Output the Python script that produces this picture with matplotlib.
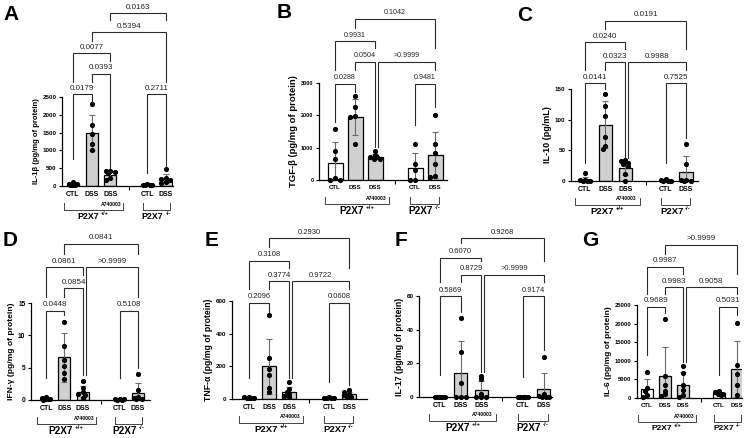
import numpy as np
import matplotlib
matplotlib.use('Agg')
import matplotlib.pyplot as plt

plt.rcParams['font.family'] = ['Liberation Sans', 'DejaVu Sans']
plt.rcParams['axes.linewidth'] = 0.9

W, H = 751, 438

groups = ['CTL', 'DSS', 'DSS', 'CTL', 'DSS']
xpos = [0, 1, 2, 4, 5]
# comparisons, same order as the p-value lists
pairs = [(0, 1), (1, 2), (2, 5), (0, 2), (1, 5), (4, 5)]

# A  IL-1b
il1b_mean = [55, 1500, 310, 30, 210]
il1b_sd = [30, 500, 110, 15, 130]
il1b_pts = [[110, 70, 55, 40, 30, 20], [2310, 1710, 1450, 1190, 1000],
            [430, 410, 390, 370, 220, 160], [50, 40, 30, 20, 15],
            [470, 230, 200, 170, 120, 80]]
il1b_p = ['0.0179', '0.0393', '0.0163', '0.0077', '0.5394', '0.2711']
il1b_ticks = [0, 500, 1000, 1500, 2000, 2500]

# B  TGF-b
tgfb_mean = [520, 1950, 720, 380, 770]
tgfb_sd = [650, 550, 80, 440, 720]
tgfb_pts = [[1570, 900, 650, 50, 0, 0], [2600, 2250, 1980, 1950, 1110],
            [900, 780, 720, 700, 660, 640], [1110, 500, 300, 0, 0],
            [2000, 1110, 820, 500, 120, 80]]
tgfb_p = ['0.0288', '0.0504', '>0.9999', '0.9931', '0.1042', '0.9481']
tgfb_ticks = [0, 1000, 2000, 3000]

# C  IL-10
il10_mean = [2, 92, 21, 1, 15]
il10_sd = [5, 38, 11, 1, 25]
il10_pts = [[13, 2, 1, 0, 0, 0], [142, 122, 106, 72, 57, 52],
            [35, 33, 30, 27, 24, 12, 0], [3, 1, 0, 0, 0],
            [60, 28, 2, 1, 0, 0]]
il10_p = ['0.0141', '0.0323', '0.9988', '0.0240', '0.0191', '0.7525']
il10_ticks = [0, 50, 100, 150]

# D  IFN-g
ifng_mean = [0.2, 6.6, 1.3, 0.1, 1.1]
ifng_sd = [0.2, 3.8, 0.8, 0.1, 1.5]
ifng_pts = [[0.5, 0.3, 0.2, 0.1, 0.0, 0.1], [12.1, 8.3, 6.2, 5.2, 4.2, 3.2],
            [3.0, 1.8, 1.2, 1.0, 0.8, 0.3], [0.2, 0.1, 0.1, 0.0, 0.0],
            [4.0, 1.6, 0.4, 0.2, 0.1, 0.3]]
ifng_p = ['0.0448', '0.0854', '>0.9999', '0.0861', '0.0841', '0.5108']
ifng_ticks = [0, 5, 10, 15]

# E  TNF-a
tnfa_mean = [8, 200, 45, 7, 30]
tnfa_sd = [4, 168, 30, 3, 15]
tnfa_pts = [[15, 10, 8, 5, 4, 6], [515, 250, 185, 150, 65, 40],
            [105, 60, 45, 30, 20, 10], [12, 8, 6, 5, 4],
            [55, 45, 30, 25, 15, 10]]
tnfa_p = ['0.2096', '0.3774', '0.9722', '0.3108', '0.2930', '0.0608']
tnfa_ticks = [0, 200, 400, 600]

# F  IL-17
il17_mean = [0, 14, 4.2, 0, 4.5]
il17_sd = [0, 19, 5.5, 0, 10]
il17_pts = [[0, 0, 0, 0, 0, 0], [47, 27, 8.3, 0, 0, 0],
            [12.5, 10.5, 2, 0, 0, 0], [0, 0, 0, 0, 0],
            [24, 1.5, 0.5, 0, 0, 0]]
il17_p = ['0.5869', '0.8729', '>0.9999', '0.6070', '0.9268', '0.9174']
il17_ticks = [0, 20, 40, 60]

# G  IL-6
il6_mean = [2500, 5800, 3600, 1300, 7700]
il6_sd = [2700, 8000, 3500, 370, 7500]
il6_pts = [[7100, 2600, 1800, 800, 200], [21200, 6000, 3500, 2000, 1000, 500],
           [8500, 6700, 3500, 2200, 800, 200], [1800, 1500, 1200, 1000, 900],
           [20100, 8900, 6500, 3400, 700]]
il6_p = ['0.9689', '0.9983', '0.9058', '0.9987', '>0.9999', '0.5031']
il6_ticks = [0, 5000, 10000, 15000, 20000, 25000]

panels = [
    ('A', 'IL-1β (pg/mg of protein)', il1b_mean, il1b_sd, il1b_pts, il1b_p, il1b_ticks),
    ('B', 'TGF-β (pg/mg of protein)', tgfb_mean, tgfb_sd, tgfb_pts, tgfb_p, tgfb_ticks),
    ('C', 'IL-10 (pg/mL)', il10_mean, il10_sd, il10_pts, il10_p, il10_ticks),
    ('D', 'IFN-γ (pg/mg of protein)', ifng_mean, ifng_sd, ifng_pts, ifng_p, ifng_ticks),
    ('E', 'TNF-α (pg/mg of protein)', tnfa_mean, tnfa_sd, tnfa_pts, tnfa_p, tnfa_ticks),
    ('F', 'IL-17 (pg/mg of protein)', il17_mean, il17_sd, il17_pts, il17_p, il17_ticks),
    ('G', 'IL-6 (pg/mg of protein)', il6_mean, il6_sd, il6_pts, il6_p, il6_ticks),
]
genotypes = [('P2X7', '+/+'), ('P2X7', '-/-')]

# layout: box = left, right, y of zero, y of top tick (pixels)
# lv = bracket heights as fraction of top tick, which = level of each comparison
# floor = how low the long bracket legs reach at each column
lay = {
    'A': dict(box=(62, 173, 186, 97), xlim=(-0.59, 5.38), lv=[1.03, 1.26, 1.49, 1.73, 1.94],
              which=[0, 1, 4, 2, 3, 0], floor=[0.3, 0.93, 0.2, 0.15, 0.22], shift=0.0,
              bw=0.65, fs=(5.5, 4.5, 5.0, 5.8, 6.4), letter=(3, 5)),
    'B': dict(box=(319, 447, 180, 83), xlim=(-0.8, 5.6), lv=[0.99, 1.22, 1.43, 1.66],
              which=[0, 1, 1, 2, 3, 0], floor=[0.6, 0.91, 0.34, 0.57, 0.75], shift=0.15,
              bw=0.75, fs=(6.8, 4.0, 4.4, 5.1, 7.2), letter=(277, 3)),
    'C': dict(box=(571, 698, 181, 89), xlim=(-0.69, 5.59), lv=[1.065, 1.29, 1.51, 1.74],
              which=[0, 1, 1, 2, 3, 0], floor=[0.2, 1.0, 0.25, 0.2, 0.47], shift=0.15,
              bw=0.65, fs=(6.5, 4.5, 5.0, 5.8, 6.8), letter=(517, 6)),
    'D': dict(box=(31, 150, 400, 303), xlim=(-0.82, 5.65), lv=[0.92, 1.15, 1.37, 1.61],
              which=[0, 1, 2, 2, 3, 0], floor=[0.23, 0.88, 0.26, 0.23, 0.33], shift=0.15,
              bw=0.65, fs=(6.1, 4.8, 5.0, 5.8, 7.2), letter=(3, 231)),
    'E': dict(box=(232, 367, 399, 301), xlim=(-0.85, 5.9), lv=[0.98, 1.20, 1.41, 1.64],
              which=[0, 1, 1, 2, 3, 0], floor=[0.21, 0.89, 0.21, 0.17, 0.14], shift=0.15,
              bw=0.67, fs=(6.2, 4.5, 4.8, 5.5, 6.8), letter=(205, 231)),
    'F': dict(box=(419, 552, 397, 296), xlim=(-1.0, 5.4), lv=[1.0, 1.21, 1.38, 1.57],
              which=[0, 1, 1, 2, 3, 0], floor=[0.22, 0.84, 0.25, 0.2, 0.47], shift=0.15,
              bw=0.65, fs=(6.3, 4.5, 5.0, 5.5, 7.2), letter=(395, 231)),
    'G': dict(box=(637, 742, 398, 305), xlim=(-0.55, 5.28), lv=[0.98, 1.19, 1.41, 1.65],
              which=[0, 1, 1, 2, 3, 0], floor=[0.46, 0.91, 0.39, 0.25, 0.89], shift=0.15,
              bw=0.65, fs=(6.0, 4.2, 4.4, 5.8, 6.0), letter=(582, 231)),
}

bar_cols = ['white', '#d0d0d0', '#d0d0d0', 'white', '#d0d0d0']
line_col = '#2a2a2a'

fig = plt.figure(figsize=(W / 100, H / 100), dpi=100)


def swarm(vals, pxx, pxy):
    # spread close values sideways like Prism does
    cands = [0, -0.12, 0.12, -0.24, 0.24, -0.06, 0.06, -0.18, 0.18]
    placed = []
    for v in sorted(vals, reverse=True):
        best, bestd = 0, -1
        for c in cands:
            d = min([np.hypot((c - o) * pxx, (v - w) * pxy) for o, w in placed] + [99])
            if d >= 3.2:
                best = c
                break
            if d > bestd:
                best, bestd = c, d
        placed.append((best, v))
    return placed


for letter, ylab, mean, sd, pts, pv, ticks in panels:
    L = lay[letter]
    left, right, y0, ytop = L['box']
    ax = fig.add_axes([left / W, (H - y0) / H, (right - left) / W, (y0 - ytop) / H])
    ymax = ticks[-1]
    hpx = y0 - ytop
    ax.set_xlim(*L['xlim'])
    ax.set_ylim(0, ymax)
    pxx = (right - left) / (L['xlim'][1] - L['xlim'][0])
    pxy = hpx / ymax
    yl_fs, tk_fs, x_fs, p_fs, g_fs = L['fs']
    xt = ax.get_xaxis_transform()

    ax.bar(xpos, mean, width=L['bw'], color=bar_cols, edgecolor='black', linewidth=0.9, zorder=2)
    ax.errorbar(xpos, mean, yerr=sd, fmt='none', ecolor='#6a6a6a', elinewidth=0.8,
                capsize=2, capthick=0.8, zorder=3)
    for x, vals in zip(xpos, pts):
        for off, v in swarm(vals, pxx, pxy):
            ax.plot(x + off, v, 'o', ms=2.7, color='black', mec='black', zorder=4, clip_on=False)

    for s in ['top', 'right']:
        ax.spines[s].set_visible(False)
    ax.set_yticks(ticks)
    ax.set_yticklabels([str(t) for t in ticks], fontsize=tk_fs, fontweight='bold')
    ax.tick_params(axis='y', length=2.5, width=0.8, pad=1.5)
    ax.set_xticks(xpos)
    ax.set_xticklabels(groups, fontsize=x_fs, fontweight='bold')
    ax.tick_params(axis='x', which='major', length=0, pad=3.5)
    ax.set_xticks([3], minor=True)
    ax.tick_params(axis='x', which='minor', length=3, width=0.8)
    ax.set_ylabel(ylab, fontsize=yl_fs, fontweight='bold', labelpad=2)

    # A740003 tag and genotype brackets under the axis
    ax.text(2.05, -18 / hpx, 'A740003', transform=xt, ha='center',
            va='center', fontsize=3.6, fontweight='bold')
    sup_fs = g_fs * 0.62
    for (g1, g2), (gname, gsup) in zip([(-0.5, 2.7), (3.75, 5.2)], genotypes):
        yb, yt = -24 / hpx, -17 / hpx
        ax.plot([g1, g1, g2, g2], [yt, yb, yb, yt], transform=xt,
                color='#444444', lw=0.7, clip_on=False)
        # rough widths in points so name + superscript sit centred
        w_main = 2.45 * g_fs
        w_sup = (1.45 if gsup == '+/+' else 0.95) * sup_fs
        gap = 1.4
        total = w_main + gap + w_sup
        xc = (g1 + g2) / 2
        ax.annotate(gname, (xc, -31 / hpx), xycoords=xt, xytext=(-total / 2, 0),
                    textcoords='offset points', ha='left', va='center', fontsize=g_fs,
                    fontweight='bold', annotation_clip=False)
        ax.annotate(gsup, (xc, -31 / hpx), xycoords=xt,
                    xytext=(-total / 2 + w_main + gap, g_fs * 0.38),
                    textcoords='offset points', ha='left', va='center', fontsize=sup_fs,
                    fontweight='bold', annotation_clip=False)

    # comparison brackets above the bars
    spans = []
    for k, (x1, x2) in enumerate(pairs):
        if k == 2:
            x1 = x1 + L['shift']
        spans.append((x1, x2, L['lv'][L['which'][k]]))
    for k, (x1, x2, lvl) in enumerate(spans):
        bots = []
        for x in (x1, x2):
            below = [l for a, b, l in spans if l < lvl and a - 0.05 <= x <= b + 0.05]
            if below:
                bots.append(max(below) + 0.14)
            else:
                bots.append(L['floor'][xpos.index(int(round(x)))])
        ax.plot([x1, x1, x2, x2], [bots[0] * ymax, lvl * ymax, lvl * ymax, bots[1] * ymax],
                color=line_col, lw=0.8, clip_on=False, solid_joinstyle='miter', zorder=5)
        ax.annotate(pv[k], ((x1 + x2) / 2, lvl * ymax), xytext=(0, 1.8),
                    textcoords='offset points', ha='center', va='bottom',
                    fontsize=p_fs, color='#222222', annotation_clip=False)

    lx, ly = L['letter']
    fig.text(lx / W, 1 - ly / H, letter, ha='left', va='top', fontsize=15, fontweight='bold')

fig.savefig('out.png', dpi=100)
